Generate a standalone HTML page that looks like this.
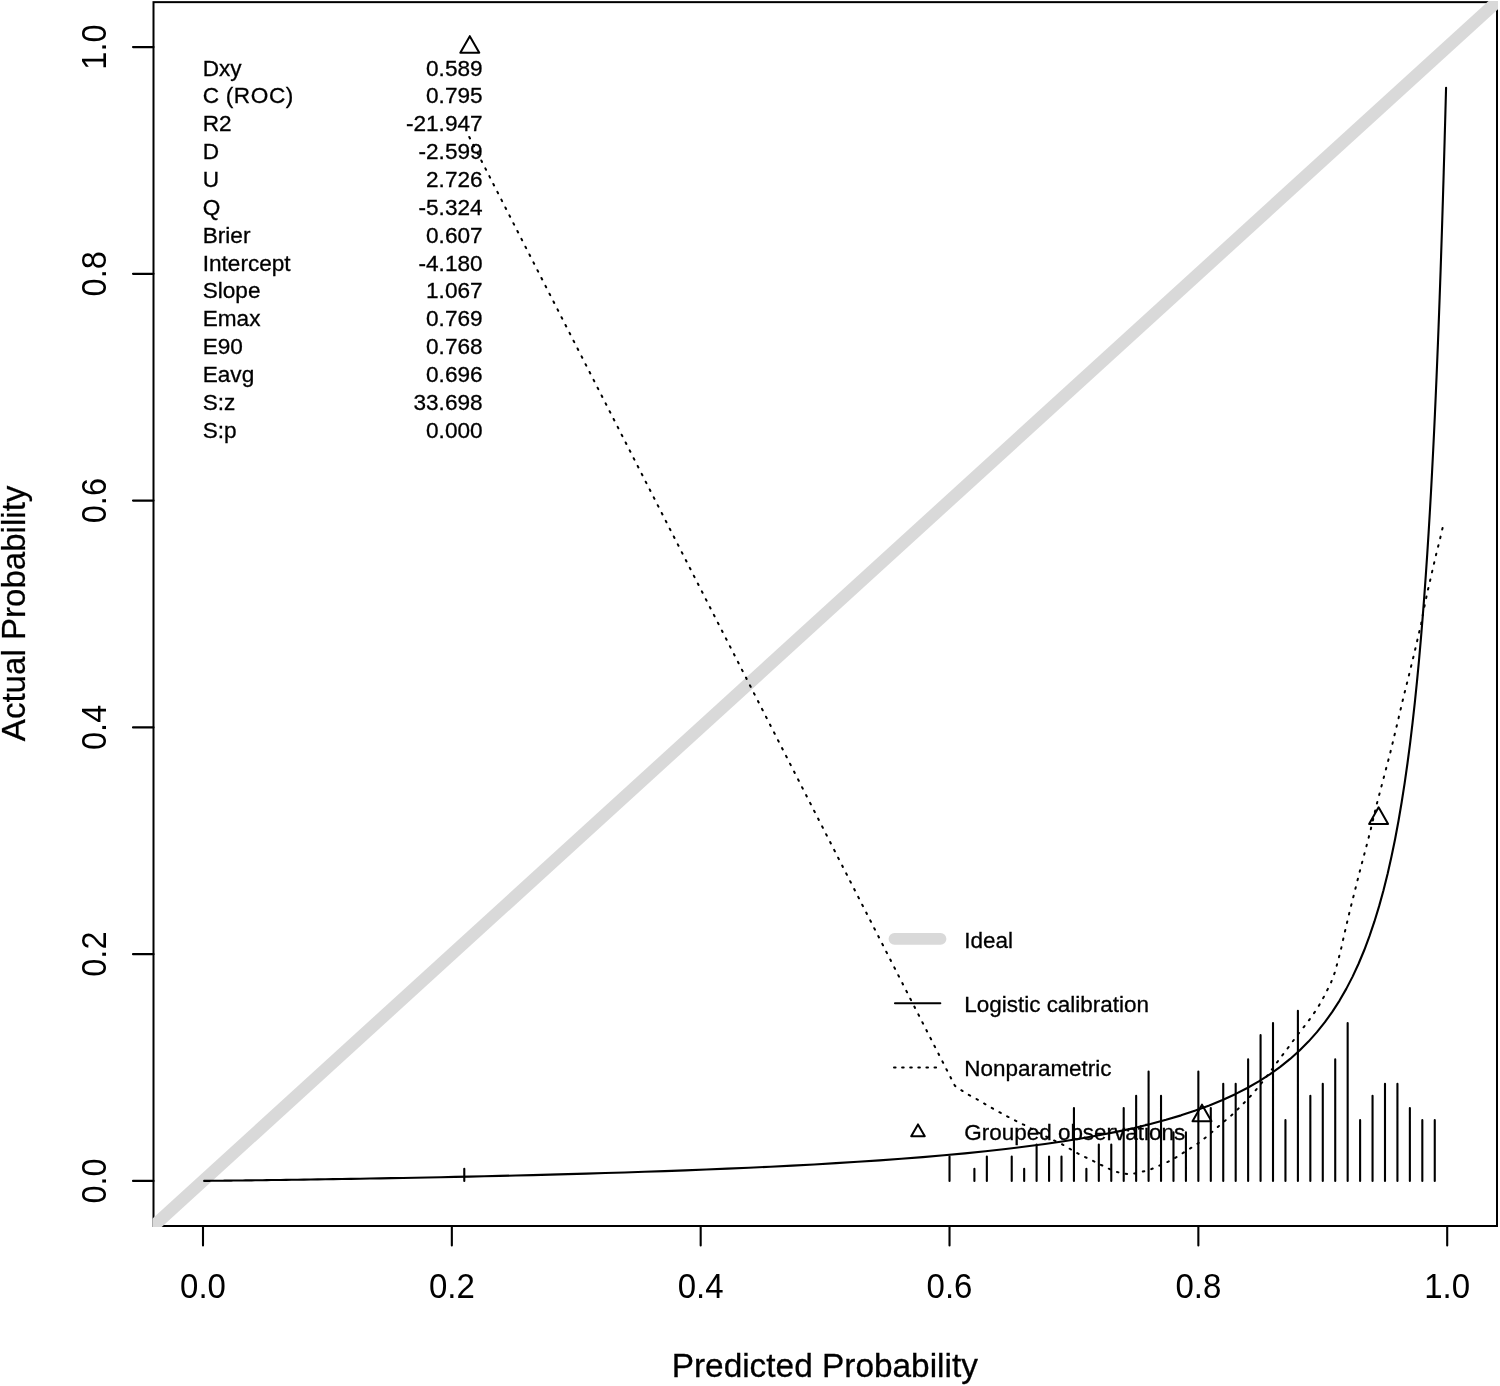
<!DOCTYPE html>
<html lang="en"><head><meta charset="utf-8"><title>Calibration plot</title>
<style>html,body{margin:0;padding:0;background:#fff}body{width:1500px;height:1386px;overflow:hidden}svg{display:block}text{font-family:"Liberation Sans",Arial,Helvetica,sans-serif;fill:#000}.b text{stroke:#000;stroke-width:.3px}</style></head><body>
<svg width="1500" height="1386" viewBox="0 0 1500 1386">
<rect width="1500" height="1386" fill="#fff"/>
<defs><clipPath id="pc"><rect x="152.5" y="1.1" width="1345.5" height="1225.8"/></clipPath></defs>
<rect x="153.50" y="2.15" width="1343.50" height="1223.85" fill="none" stroke="#000" stroke-width="2.0"/>
<g clip-path="url(#pc)"><line x1="128.35" y1="1248.93" x2="1521.85" y2="-20.93" stroke="#d9d9d9" stroke-width="12.5"/></g>
<path d="M464.28 1180.90V1168.75M949.52 1180.90V1156.60M974.40 1180.90V1168.75M986.85 1180.90V1156.60M1011.73 1180.90V1156.60M1024.17 1180.90V1168.75M1036.61 1180.90V1144.46M1049.06 1180.90V1156.60M1061.50 1180.90V1156.60M1073.94 1180.90V1108.01M1086.38 1180.90V1168.75M1098.82 1180.90V1144.46M1111.27 1180.90V1144.46M1123.71 1180.90V1108.01M1136.15 1180.90V1095.87M1148.59 1180.90V1071.57M1161.03 1180.90V1095.87M1173.48 1180.90V1132.31M1185.92 1180.90V1132.31M1198.36 1180.90V1071.57M1210.80 1180.90V1108.01M1223.24 1180.90V1083.72M1235.69 1180.90V1083.72M1248.13 1180.90V1059.42M1260.57 1180.90V1035.13M1273.01 1180.90V1022.98M1285.45 1180.90V1120.16M1297.90 1180.90V1010.83M1310.34 1180.90V1095.87M1322.78 1180.90V1083.72M1335.22 1180.90V1059.42M1347.66 1180.90V1022.98M1360.11 1180.90V1120.16M1372.55 1180.90V1095.87M1384.99 1180.90V1083.72M1397.43 1180.90V1083.72M1409.87 1180.90V1108.01M1422.32 1180.90V1120.16M1434.76 1180.90V1120.16" stroke="#000" stroke-width="2.1" fill="none" stroke-linecap="round"/>
<polyline points="204.13,1180.89 204.22,1180.89 204.30,1180.89 204.40,1180.89 204.50,1180.89 204.61,1180.89 204.73,1180.88 204.85,1180.88 204.99,1180.88 205.13,1180.88 205.29,1180.88 205.46,1180.88 205.63,1180.88 205.83,1180.87 206.03,1180.87 206.25,1180.87 206.49,1180.87 206.74,1180.86 207.01,1180.86 207.30,1180.86 207.62,1180.86 207.95,1180.85 208.31,1180.85 208.70,1180.84 209.11,1180.84 209.55,1180.84 210.03,1180.83 210.54,1180.82 211.08,1180.82 211.67,1180.81 212.29,1180.81 212.97,1180.80 213.69,1180.79 214.46,1180.78 215.28,1180.77 216.17,1180.76 217.12,1180.75 218.14,1180.74 219.22,1180.73 220.39,1180.72 221.64,1180.70 222.98,1180.69 224.41,1180.67 225.94,1180.65 227.58,1180.63 229.33,1180.61 231.20,1180.59 233.21,1180.56 235.36,1180.54 237.65,1180.51 240.10,1180.48 242.72,1180.45 245.51,1180.41 248.50,1180.37 251.68,1180.33 255.08,1180.29 258.71,1180.24 262.57,1180.19 266.69,1180.13 271.08,1180.07 275.76,1180.01 280.73,1179.94 286.01,1179.86 291.63,1179.78 297.60,1179.69 303.94,1179.60 310.66,1179.50 317.78,1179.39 325.32,1179.27 333.31,1179.15 341.74,1179.01 350.66,1178.86 360.06,1178.70 369.97,1178.53 380.41,1178.35 391.38,1178.15 402.90,1177.94 414.99,1177.71 427.65,1177.46 440.90,1177.19 454.73,1176.90 469.15,1176.59 484.16,1176.26 499.77,1175.90 515.96,1175.51 532.72,1175.09 550.05,1174.64 567.93,1174.15 586.33,1173.63 605.24,1173.07 624.62,1172.46 644.45,1171.81 664.68,1171.11 685.29,1170.35 706.22,1169.54 727.44,1168.66 748.89,1167.72 770.53,1166.70 792.31,1165.61 814.16,1164.44 836.04,1163.17 857.89,1161.81 879.67,1160.35 901.31,1158.78 922.76,1157.09 943.98,1155.28 964.91,1153.33 985.52,1151.24 1005.75,1148.99 1025.58,1146.58 1044.96,1143.99 1063.87,1141.22 1082.27,1138.24 1100.15,1135.05 1117.48,1131.63 1134.24,1127.97 1150.43,1124.05 1166.04,1119.85 1181.05,1115.37 1195.47,1110.58 1209.30,1105.46 1222.55,1100.00 1235.21,1094.18 1247.30,1087.97 1258.82,1081.36 1269.79,1074.33 1280.23,1066.86 1290.14,1058.93 1299.54,1050.51 1308.46,1041.60 1316.89,1032.16 1324.88,1022.19 1332.42,1011.66 1339.54,1000.57 1346.26,988.89 1352.60,976.62 1358.57,963.75 1364.19,950.26 1369.47,936.16 1374.44,921.45 1379.12,906.13 1383.51,890.20 1387.63,873.68 1391.49,856.58 1395.12,838.92 1398.52,820.73 1401.70,802.04 1404.69,782.87 1407.48,763.27 1410.10,743.28 1412.55,722.95 1414.84,702.32 1416.99,681.44 1419.00,660.38 1420.87,639.19 1422.62,617.93 1424.26,596.66 1425.79,575.44 1427.22,554.32 1428.56,533.37 1429.81,512.65 1430.98,492.20 1432.06,472.07 1433.08,452.32 1434.03,432.99 1434.92,414.12 1435.74,395.74 1436.51,377.88 1437.23,360.58 1437.91,343.84 1438.53,327.69 1439.12,312.14 1439.66,297.20 1440.17,282.88 1440.65,269.17 1441.09,256.07 1441.50,243.57 1441.89,231.68 1442.25,220.37 1442.58,209.64 1442.90,199.46 1443.19,189.83 1443.46,180.73 1443.71,172.13 1443.95,164.02 1444.17,156.38 1444.37,149.19 1444.57,142.43 1444.74,136.07 1444.91,130.11 1445.07,124.52 1445.21,119.27 1445.35,114.36 1445.47,109.77 1445.59,105.47 1445.70,101.45 1445.80,97.70 1445.90,94.19 1445.98,90.92 1446.07,87.86" stroke="#000" stroke-width="2.1" fill="none" stroke-linejoin="round" stroke-linecap="round"/>
<polyline id="np" points="469.3,137.0 954.9,1085.8 960.4,1089.6 967.6,1094.3 975.7,1098.5 982.9,1102.8 989.8,1106.8 996.5,1110.7 1004.0,1114.7 1011.7,1118.7 1019.3,1122.6 1027.3,1126.4 1037.0,1131.8 1047.3,1137.2 1055.0,1140.9 1062.7,1144.6 1069.3,1148.5 1076.2,1152.6 1083.1,1156.1 1091.0,1159.9 1098.5,1163.6 1106.9,1167.8 1113.9,1171.1 1122.3,1173.4 1130.2,1174.3 1137.7,1172.9 1144.7,1171.1 1151.2,1169.2 1158.7,1165.9 1166.1,1162.7 1172.7,1159.4 1179.7,1155.2 1186.7,1150.5 1193.7,1146.3 1200.7,1141.5 1208.1,1135.4 1215.0,1129.5 1223.2,1122.2 1230.3,1116.5 1238.4,1108.6 1247.0,1100.0 1252.5,1093.9 1259.6,1085.6 1267.7,1075.0 1271.7,1069.7 1279.8,1058.6 1287.9,1048.0 1297.0,1035.6 1305.1,1025.3 1311.4,1017.0 1317.9,1007.5 1324.4,995.8 1330.9,982.9 1334.8,972.5 1338.7,958.2 1341.3,947.8 1344.5,933.5 1347.8,919.2 1351.0,906.2 1354.3,893.2 1357.5,880.3 1360.8,867.3 1364.0,855.3 1367.7,841.3 1371.6,825.9 1376.7,804.3 1383.9,776.9 1391.1,749.5 1398.3,719.2 1404.1,694.6 1408.7,676.2 1414.0,654.5 1417.9,637.7 1421.2,623.4 1424.4,606.5 1427.7,590.9 1432.2,571.4 1436.1,554.5 1440.0,539.0 1442.6,527.9" stroke="#000" stroke-width="2.0" fill="none" stroke-dasharray="1.6 7.2" stroke-linecap="round" stroke-linejoin="round"/>
<path d="M469.80 36.13L479.30 52.73L460.30 52.73Z" stroke="#000" stroke-width="2" fill="none" stroke-linejoin="round"/>
<path d="M1202.00 1104.63L1211.50 1121.23L1192.50 1121.23Z" stroke="#000" stroke-width="2" fill="none" stroke-linejoin="round"/>
<path d="M1378.60 807.33L1388.10 823.93L1369.10 823.93Z" stroke="#000" stroke-width="2" fill="none" stroke-linejoin="round"/>
<path d="M203.00 1226.00V1245.50M153.50 1180.90H133.00M451.84 1226.00V1245.50M153.50 954.14H133.00M700.68 1226.00V1245.50M153.50 727.38H133.00M949.52 1226.00V1245.50M153.50 500.62H133.00M1198.36 1226.00V1245.50M153.50 273.86H133.00M1447.20 1226.00V1245.50M153.50 47.10H133.00" stroke="#000" stroke-width="2.1" fill="none" stroke-linecap="round"/>
<text transform="translate(203.00,1297.60) scale(1.000,1.050)" font-size="33.00" text-anchor="middle">0.0</text>
<text transform="translate(451.84,1297.60) scale(1.000,1.050)" font-size="33.00" text-anchor="middle">0.2</text>
<text transform="translate(700.68,1297.60) scale(1.000,1.050)" font-size="33.00" text-anchor="middle">0.4</text>
<text transform="translate(949.52,1297.60) scale(1.000,1.050)" font-size="33.00" text-anchor="middle">0.6</text>
<text transform="translate(1198.36,1297.60) scale(1.000,1.050)" font-size="33.00" text-anchor="middle">0.8</text>
<text transform="translate(1447.20,1297.60) scale(1.000,1.050)" font-size="33.00" text-anchor="middle">1.0</text>
<text transform="translate(105.80,1180.90) rotate(-90) scale(1.000,1.080)" font-size="32.50" text-anchor="middle">0.0</text>
<text transform="translate(105.80,954.14) rotate(-90) scale(1.000,1.080)" font-size="32.50" text-anchor="middle">0.2</text>
<text transform="translate(105.80,727.38) rotate(-90) scale(1.000,1.080)" font-size="32.50" text-anchor="middle">0.4</text>
<text transform="translate(105.80,500.62) rotate(-90) scale(1.000,1.080)" font-size="32.50" text-anchor="middle">0.6</text>
<text transform="translate(105.80,273.86) rotate(-90) scale(1.000,1.080)" font-size="32.50" text-anchor="middle">0.8</text>
<text transform="translate(105.80,47.10) rotate(-90) scale(1.000,1.080)" font-size="32.50" text-anchor="middle">1.0</text>
<text transform="translate(824.80,1377.20) scale(1.000,1.000)" font-size="33.40" text-anchor="middle" stroke="#000" stroke-width="0.3">Predicted Probability</text>
<text transform="translate(25.30,613.40) rotate(-90) scale(1.000,1.017)" font-size="33.08" text-anchor="middle" stroke="#000" stroke-width="0.25">Actual Probability</text>
<g class="b">
<text transform="translate(202.70,75.60) scale(1.000,1.000)" font-size="22.60">Dxy</text>
<text transform="translate(482.60,75.60) scale(1.000,1.000)" font-size="22.60" text-anchor="end">0.589</text>
<text transform="translate(202.70,103.45) scale(1.000,1.000)" font-size="22.60" letter-spacing="0.62" word-spacing="-0.9">C (ROC)</text>
<text transform="translate(482.60,103.45) scale(1.000,1.000)" font-size="22.60" text-anchor="end">0.795</text>
<text transform="translate(202.70,131.30) scale(1.000,1.000)" font-size="22.60">R2</text>
<text transform="translate(482.60,131.30) scale(1.000,1.000)" font-size="22.60" text-anchor="end">-21.947</text>
<text transform="translate(202.70,159.15) scale(1.000,1.000)" font-size="22.60">D</text>
<text transform="translate(482.60,159.15) scale(1.000,1.000)" font-size="22.60" text-anchor="end">-2.599</text>
<text transform="translate(202.70,187.00) scale(1.000,1.000)" font-size="22.60">U</text>
<text transform="translate(482.60,187.00) scale(1.000,1.000)" font-size="22.60" text-anchor="end">2.726</text>
<text transform="translate(202.70,214.85) scale(1.000,1.000)" font-size="22.60">Q</text>
<text transform="translate(482.60,214.85) scale(1.000,1.000)" font-size="22.60" text-anchor="end">-5.324</text>
<text transform="translate(202.70,242.70) scale(1.000,1.000)" font-size="22.60">Brier</text>
<text transform="translate(482.60,242.70) scale(1.000,1.000)" font-size="22.60" text-anchor="end">0.607</text>
<text transform="translate(202.70,270.55) scale(1.000,1.000)" font-size="22.60">Intercept</text>
<text transform="translate(482.60,270.55) scale(1.000,1.000)" font-size="22.60" text-anchor="end">-4.180</text>
<text transform="translate(202.70,298.40) scale(1.000,1.000)" font-size="22.60">Slope</text>
<text transform="translate(482.60,298.40) scale(1.000,1.000)" font-size="22.60" text-anchor="end">1.067</text>
<text transform="translate(202.70,326.25) scale(1.000,1.000)" font-size="22.60">Emax</text>
<text transform="translate(482.60,326.25) scale(1.000,1.000)" font-size="22.60" text-anchor="end">0.769</text>
<text transform="translate(202.70,354.10) scale(1.000,1.000)" font-size="22.60">E90</text>
<text transform="translate(482.60,354.10) scale(1.000,1.000)" font-size="22.60" text-anchor="end">0.768</text>
<text transform="translate(202.70,381.95) scale(1.000,1.000)" font-size="22.60">Eavg</text>
<text transform="translate(482.60,381.95) scale(1.000,1.000)" font-size="22.60" text-anchor="end">0.696</text>
<text transform="translate(202.70,409.80) scale(1.000,1.000)" font-size="22.60">S:z</text>
<text transform="translate(482.60,409.80) scale(1.000,1.000)" font-size="22.60" text-anchor="end">33.698</text>
<text transform="translate(202.70,437.65) scale(1.000,1.000)" font-size="22.60">S:p</text>
<text transform="translate(482.60,437.65) scale(1.000,1.000)" font-size="22.60" text-anchor="end">0.000</text>
<line x1="894.4" y1="938.90" x2="940.6" y2="938.90" stroke="#d9d9d9" stroke-width="11.6" stroke-linecap="round"/>
<line x1="895.0" y1="1003.30" x2="940.3" y2="1003.30" stroke="#000" stroke-width="2.1" stroke-linecap="round"/>
<line x1="894.0" y1="1067.50" x2="941.3" y2="1067.50" stroke="#000" stroke-width="2.0" stroke-dasharray="1.6 6.5" stroke-linecap="round"/>
<path d="M918.00 1124.40L924.80 1136.20L911.20 1136.20Z" stroke="#000" stroke-width="2" fill="none" stroke-linejoin="round"/>
<text transform="translate(964.20,947.60) scale(1.000,1.000)" font-size="22.47">Ideal</text>
<text transform="translate(964.20,1012.00) scale(1.000,1.000)" font-size="22.47">Logistic calibration</text>
<text transform="translate(964.20,1076.40) scale(1.000,1.000)" font-size="22.47">Nonparametric</text>
<text transform="translate(964.20,1140.00) scale(1.000,1.000)" font-size="22.47">Grouped observations</text>
</g>
</svg></body></html>
